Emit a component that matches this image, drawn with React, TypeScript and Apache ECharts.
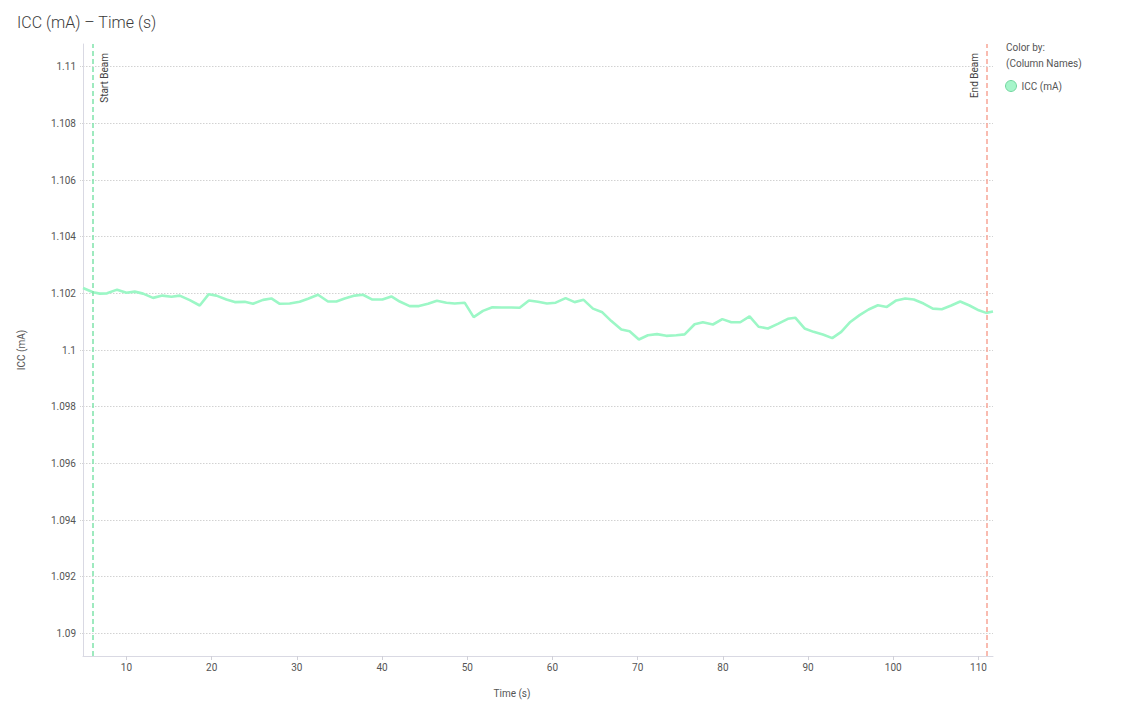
import React, { useEffect, useRef } from "react";
import * as echarts from "echarts";

const times: number[] = [
  4.9, 6.08, 6.87, 7.72, 8.9, 10.0, 10.97, 11.95, 13.12, 14.22, 15.28, 16.25, 17.43, 18.6, 19.66, 20.56,
  21.73, 22.71, 23.88, 24.85, 26.03, 27.01, 27.99, 29.16, 30.33, 31.31, 32.48, 33.65, 34.64, 35.61,
  36.79, 37.76, 38.86, 40.04, 41.09, 42.07, 43.24, 44.33, 45.39, 46.44, 47.55, 48.52, 49.69, 50.75,
  51.84, 52.94, 54.0, 55.17, 56.15, 57.24, 58.29, 59.35, 60.37, 61.54, 62.6, 63.65, 64.75, 65.85,
  66.91, 68.08, 69.05, 70.14, 71.2, 72.26, 73.36, 74.53, 75.51, 76.68, 77.65, 78.83, 79.93, 80.98,
  82.04, 83.13, 84.19, 85.28, 86.45, 87.63, 88.49, 89.58, 90.64, 91.73, 92.83, 93.89, 94.95, 96.04,
  97.1, 98.19, 99.24, 100.35, 101.4, 102.41, 103.55, 104.64, 105.69, 106.8, 107.85, 108.94, 110.03,
  110.9, 111.7,
];

const icc: number[] = [
  1.10219, 1.10204, 1.10199, 1.102, 1.10213, 1.10202, 1.10206, 1.10199, 1.10184, 1.10192, 1.10188,
  1.10192, 1.10176, 1.10157, 1.10197, 1.10192, 1.10178, 1.10169, 1.1017, 1.10163, 1.10177, 1.10182,
  1.10163, 1.10164, 1.1017, 1.10181, 1.10195, 1.10171, 1.10171, 1.10182, 1.10192, 1.10195, 1.10178,
  1.10178, 1.10189, 1.10171, 1.10155, 1.10155, 1.10163, 1.10174, 1.10167, 1.10164, 1.10167, 1.10116,
  1.10138, 1.10151, 1.1015, 1.1015, 1.10149, 1.10175, 1.1017, 1.10164, 1.10167, 1.10183, 1.10169,
  1.10177, 1.10146, 1.10133, 1.10102, 1.10072, 1.10066, 1.10037, 1.10052, 1.10056, 1.1005, 1.10052,
  1.10055, 1.10091, 1.10098, 1.1009, 1.10109, 1.10098, 1.10098, 1.10119, 1.10082, 1.10076, 1.10092,
  1.1011, 1.10114, 1.10076, 1.10064, 1.10055, 1.10042, 1.10064, 1.10099, 1.10123, 1.10143, 1.10158,
  1.10152, 1.10175, 1.10182, 1.10178, 1.10164, 1.10146, 1.10144, 1.10157, 1.10171, 1.10157, 1.1014,
  1.10131, 1.10136,
];

const xTicks: number[] = [10, 20, 30, 40, 50, 60, 70, 80, 90, 100, 110];
const yTicks: number[] = [1.09, 1.092, 1.094, 1.096, 1.098, 1.1, 1.102, 1.104, 1.106, 1.108, 1.11];
const yMin = 1.0892;
const yMax = 1.1108;
const beamStart = 6.05;
const beamEnd = 110.94;
const seriesName = "ICC (mA)";

const FONT = "Roboto, 'Noto Sans', sans-serif";

export default function App() {
  const ref = useRef<HTMLDivElement>(null);
  useEffect(() => {
    document.body.style.margin = "0";
    if (!ref.current) return;
    const chart = echarts.init(ref.current, undefined, { renderer: "svg" });
    const data = times.map((t, i) => [t, icc[i]]);
    chart.setOption({
      animation: false,
      backgroundColor: "#ffffff",
      textStyle: { fontFamily: FONT },
      title: {
        text: "ICC (mA) \u2013 Time (s)",
        left: 12,
        top: 9,
        textStyle: { fontSize: 16, fontWeight: 300, color: "#3a3a3a", fontFamily: FONT },
      },
      grid: { left: 83, top: 44, right: 1128 - 993, bottom: 710 - 656, containLabel: false },
      legend: {
        data: [seriesName],
        left: 1000,
        top: 75,
        orient: "vertical",
        icon: "circle",
        itemWidth: 11,
        itemHeight: 11,
        itemGap: 4,
        textStyle: { fontSize: 10, color: "#555", fontFamily: FONT },
        itemStyle: { color: "#a6f5ca", borderColor: "#72d69f", borderWidth: 1 },
      },
      graphic: [
        { type: "text", left: 1006, top: 42, style: { text: "Color by:", fontSize: 10, fill: "#555", fontFamily: FONT } },
        { type: "text", left: 1006, top: 58, style: { text: "(Column Names)", fontSize: 10, fill: "#555", fontFamily: FONT } },
      ],
      xAxis: {
        type: "value",
        min: "dataMin",
        max: "dataMax",
        name: "Time (s)",
        nameLocation: "middle",
        nameGap: 32,
        nameTextStyle: { fontSize: 10, color: "#555", padding: [0, 52, 0, 0] },
        axisLine: { show: true, lineStyle: { color: "#d9d9e3", width: 1 } },
        axisTick: { show: true, length: 4, customValues: xTicks, lineStyle: { color: "#d0d0d8" } },
        axisLabel: { customValues: xTicks, fontSize: 10, color: "#555", margin: 6 },
        splitLine: { show: false },
      },
      yAxis: {
        type: "value",
        min: yMin,
        max: yMax,
        name: "ICC (mA)",
        nameLocation: "middle",
        nameGap: 57,
        nameTextStyle: { fontSize: 10, color: "#555" },
        axisLine: { show: true, lineStyle: { color: "#d9d9e3", width: 1 } },
        axisTick: { show: true, length: 4, customValues: yTicks, lineStyle: { color: "#d2d2d2", type: "dotted" } },
        axisLabel: { customValues: yTicks, fontSize: 10, color: "#555", margin: 7 },
        splitLine: { show: true, lineStyle: { color: "#d2d2d2", type: [1.5, 1.5], width: 1 } },
      },
      series: [
        {
          name: seriesName,
          type: "line",
          data,
          showSymbol: false,
          symbol: "circle",
          itemStyle: { color: "#9cf7c6" },
          lineStyle: { color: "#9cf7c6", width: 2.6 },
          z: 3,
          markLine: {
            silent: true,
            symbol: ["none", "none"],
            animation: false,
            data: [
              {
                name: "Start Beam",
                xAxis: beamStart,
                lineStyle: { color: "#7fe3ab", type: [5, 3], width: 1.5 },
                label: { show: true, formatter: "{b}", position: "insideEndBottom", fontSize: 10, color: "#444", distance: [9, 7] },
              },
              {
                name: "End Beam",
                xAxis: beamEnd,
                lineStyle: { color: "#f7a596", type: [5, 3], width: 1.5 },
                label: { show: true, formatter: "{b}", position: "insideEndTop", fontSize: 10, color: "#444", distance: [9, 7] },
              },
            ],
          },
        },
      ],
    });
    return () => chart.dispose();
  }, []);
  return <div ref={ref} style={{ width: 1128, height: 710 }} />;
}
